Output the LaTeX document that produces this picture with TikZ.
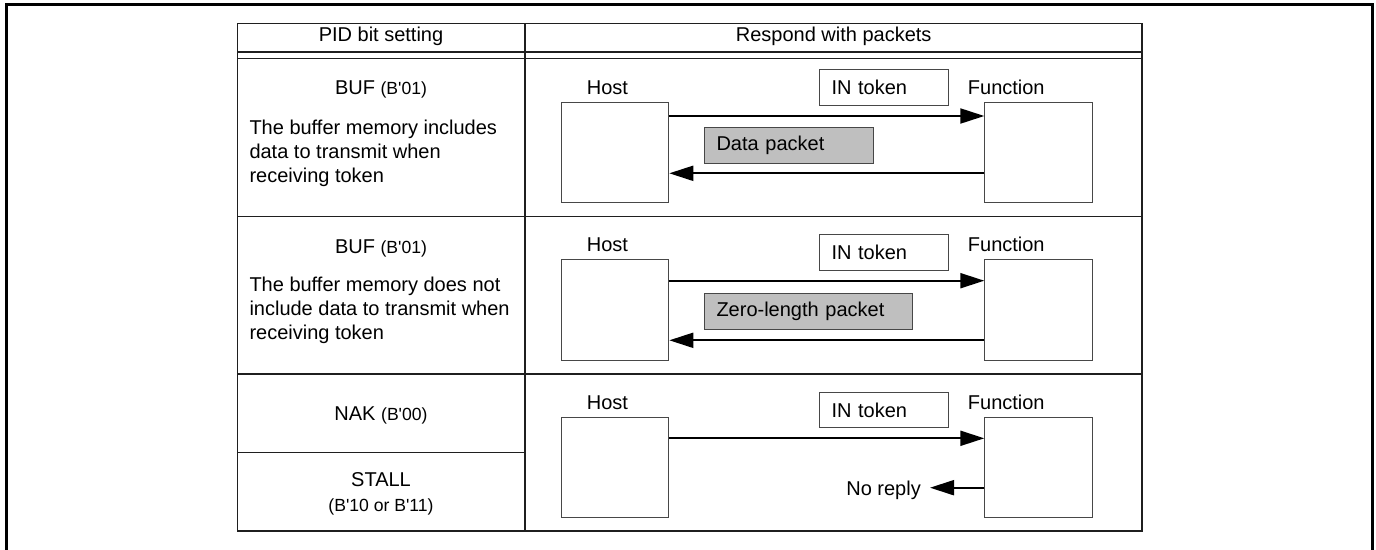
\documentclass[tikz,border=0pt]{standalone}
\usepackage{fontspec}
\setmainfont{Liberation Sans}
\newfontfamily\plainfam{Liberation Sans}[Ligatures=ResetAll]
\usetikzlibrary{arrows.meta}
\newcommand{\smalltxt}{\fontsize{17.6}{20}\selectfont}
\newcommand{\sq}{{\plainfam '}}
\begin{document}
\begin{tikzpicture}[x=1pt,y=-1pt,
  tbl/.style={line width=1.3pt, draw=black!88},
  ent/.style={draw=black!72, line width=1pt, minimum width=107.6pt, minimum height=100.6pt, inner sep=0pt, anchor=north west},
  lbl/.style={inner sep=0pt, font=\fontsize{20}{24}\selectfont, anchor=base west},
  ctr/.style={inner sep=0pt, font=\fontsize{20}{24}\selectfont, anchor=base},
  tok/.style={draw=black!72, line width=1pt, anchor=north west, inner xsep=12pt, inner ysep=0pt,
     font=\fontsize{20}{24}\selectfont, align=left, text depth=0pt},
  pkt/.style={tok, fill=black!25, draw=black!72},
  arr/.style={line width=2pt, -{Triangle[length=24pt,width=15pt]}}
]
\useasboundingbox (0,0) rectangle (1376,549);
% outer frame
\draw[line width=3pt] (6.5,570) -- (6.5,4.3) -- (1372,4.3) -- (1372,570);

% table
\draw[tbl] (237.5,23.3) rectangle (1142,531);
\draw[tbl] (237.5,52) -- (1142,52);
\draw[tbl] (237.5,58.5) -- (1142,58.5);
\draw[tbl] (237.5,216.7) -- (1142,216.7);
\draw[tbl] (237.5,374) -- (1142,374);
\draw[tbl] (237.5,452.7) -- (525,452.7);
\draw[tbl, line width=1.8pt] (525,23.3) -- (525,531);

% header
\node[ctr] (h1) at (381,41.7) {PID bit setting};
\node[ctr] (h2) at (833.7,41.7) {Respond with packets};

% left column
\node[ctr] (b1) at (381,94.3) {BUF {\smalltxt(B\sq01)}};
\node[lbl] (t11) at (249.3,134) {The buffer memory includes};
\node[lbl] (t12) at (249.3,158) {data to transmit when};
\node[lbl] (t13) at (249.3,182) {receiving token};

\node[ctr] (b2) at (381,253.3) {BUF {\smalltxt(B\sq01)}};
\node[lbl] (t21) at (249.3,291) {The buffer memory does not};
\node[lbl] (t22) at (249.3,315) {include data to transmit when};
\node[lbl] (t23) at (249.3,339) {receiving token};

\node[ctr] (n3) at (381,420) {NAK {\smalltxt(B\sq00)}};
\node[ctr] (s3) at (381,486.7) {STALL};
\node[ctr, font=\smalltxt] (s3b) at (381,511.7) {(B\sq10 or B\sq11)};

% row 1
\node[lbl] (hl1) at (586.7,94) {Host};
\node[lbl] (fl1) at (967.7,94) {Function};
\node[ent] (host1) at (560.7,101.7) {};
\node[ent] (fn1) at (984.3,101.7) {};
\node[tok, text width=105.3pt, minimum height=35.7pt] (in1) at (819,69.3) {IN token};
\node[pkt, text width=144.7pt, minimum height=36pt, text depth=4.2pt] (dp1) at (704,126.7) {Data packet};
\draw[arr] ([yshift=-14.3pt]host1.north east) -- ([yshift=-14.3pt]fn1.north west);
\draw[arr] ([yshift=-71.6pt]fn1.north west) -- ([yshift=-71.6pt]host1.north east);

% row 2
\node[lbl] (hl2) at (586.7,251.7) {Host};
\node[lbl] (fl2) at (967.7,251.5) {Function};
\node[ent] (host2) at (560.7,259.3) {};
\node[ent] (fn2) at (984.3,259.3) {};
\node[tok, text width=105.3pt, minimum height=36.3pt] (in2) at (819,234) {IN token};
\node[pkt, text width=184pt, minimum height=35.7pt, text depth=4.2pt] (zl2) at (704,293.3) {Zero-length packet};
\draw[arr] ([yshift=-21.4pt]host2.north east) -- ([yshift=-21.4pt]fn2.north west);
\draw[arr] ([yshift=-81pt]fn2.north west) -- ([yshift=-81pt]host2.north east);

% row 3
\node[lbl] (hl3) at (586.7,409.3) {Host};
\node[lbl] (fl3) at (967.7,409) {Function};
\node[ent] (host3) at (560.7,416.7) {};
\node[ent] (fn3) at (984.3,416.7) {};
\node[tok, text width=105.3pt, minimum height=35.7pt] (in3) at (819,391.7) {IN token};
\draw[arr] ([yshift=-21.6pt]host3.north east) -- ([yshift=-21.6pt]fn3.north west);
\coordinate (nr) at (930,487.7);
\node[inner sep=0pt, font=\fontsize{20}{24}\selectfont, anchor=base east] (nrt) at (921,495) {No reply};
\draw[arr] (fn3.west |- nr) -- (nr);
\end{tikzpicture}
\end{document}
